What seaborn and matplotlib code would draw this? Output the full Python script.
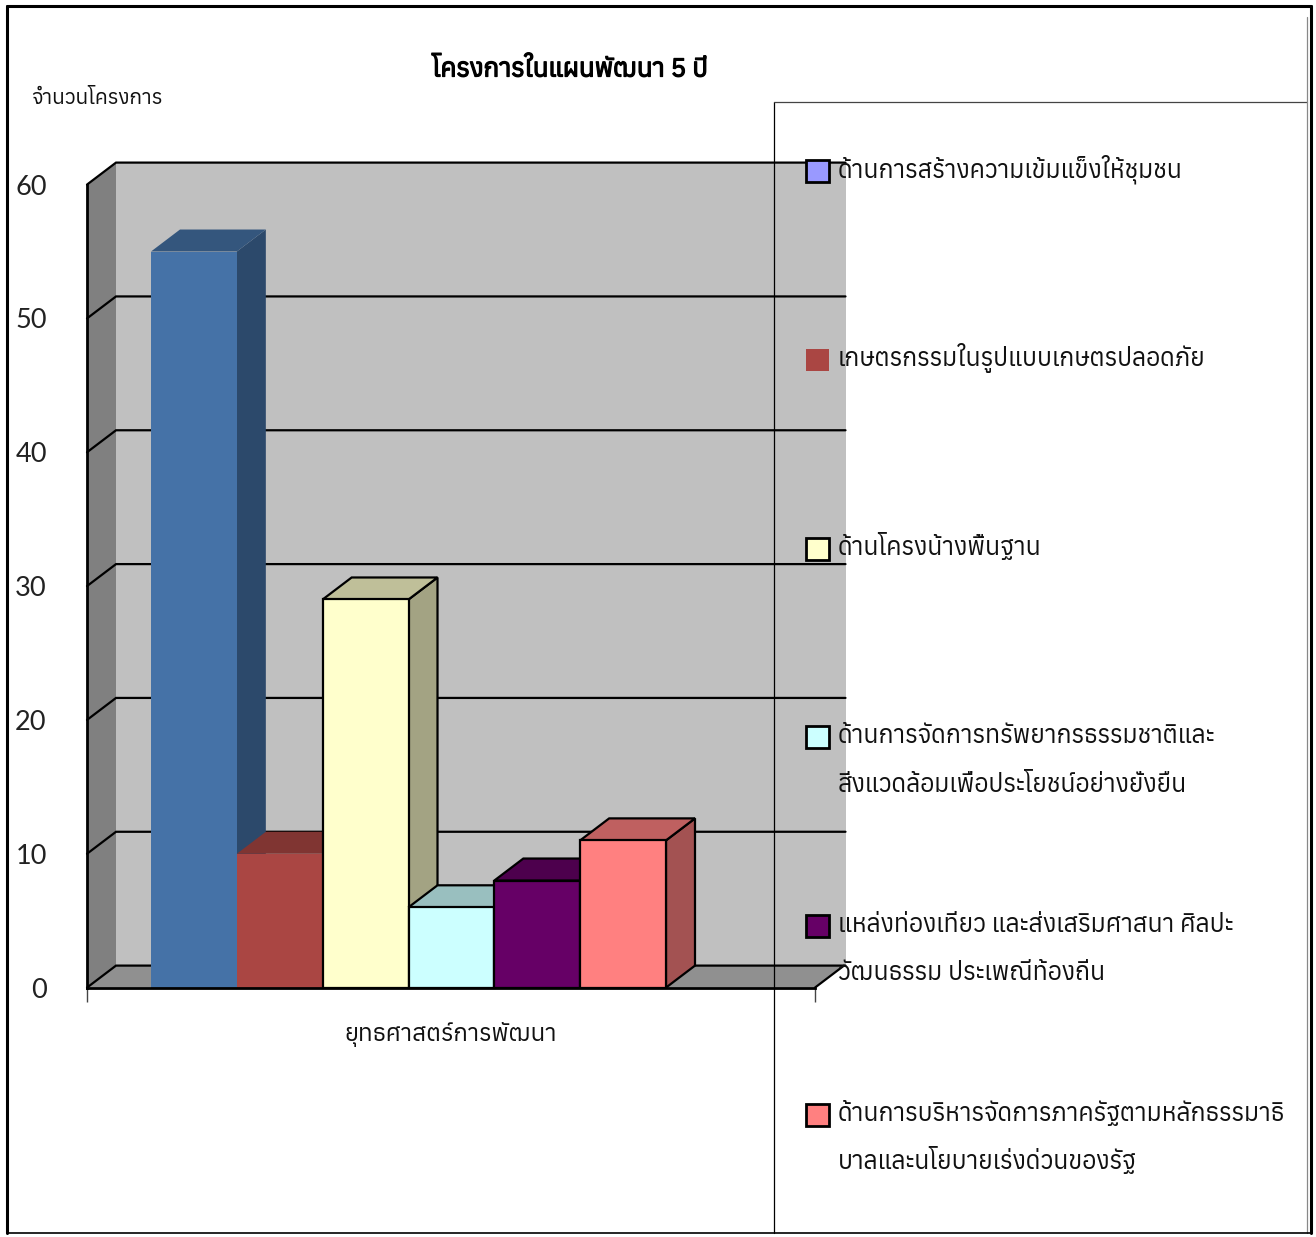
import matplotlib
matplotlib.use('Agg')
import matplotlib.pyplot as plt
import matplotlib.patheffects as pe
from matplotlib import font_manager, colors
from matplotlib.lines import Line2D
from matplotlib.patches import Polygon, Rectangle
from matplotlib.ft2font import FT2Font
import pandas as pd
import seaborn as sns

title = 'โครงการในแผนพัฒนา 5 ปี'
y_title = 'จำนวนโครงการ'
group = 'ยุทธศาสตร์การพัฒนา'
series = [
    'ด้านการสร้างความเข้มแข็งให้ชุมชน',
    'เกษตรกรรมในรูปแบบเกษตรปลอดภัย',
    'ด้านโครงน้างพื้นฐาน',
    'ด้านการจัดการทรัพยากรธรรมชาติและ\nสิ่งแวดล้อมเพื่อประโยชน์อย่างยั่งยืน',
    'แหล่งท่องเที่ยว และส่งเสริมศาสนา ศิลปะ\nวัฒนธรรม ประเพณีท้องถิ่น',
    'ด้านการบริหารจัดการภาครัฐตามหลักธรรมาธิ\nบาลและนโยบายเร่งด่วนของรัฐ',
]
values = [55, 10, 29, 6, 8, 11]
bar_colors = ['#4572A7', '#AA4643', '#FFFFCC', '#CCFFFF', '#660066', '#FF8080']
legend_colors = ['#9999FF', '#AA4643', '#FFFFCC', '#CCFFFF', '#660066', '#FF8080']
edged = [False, False, True, True, True, True]
y_ticks = [0, 10, 20, 30, 40, 50, 60]

W, H = 1316, 1237

# look for whatever installed font really has thai glyphs
thai_fonts = []
for f in font_manager.fontManager.ttflist:
    try:
        if 0x0E01 in FT2Font(f.fname).get_charmap():
            thai_fonts.append(f.name)
    except Exception:
        pass
thai_fonts = sorted(set(thai_fonts))

sns.set_theme(style='white')
plt.rcParams['font.family'] = thai_fonts[:1] + ['DejaVu Sans']

df = pd.DataFrame({'group': [group] * len(values), 'series': series, 'value': values})

fig = plt.figure(figsize=(W / 100, H / 100), dpi=100, facecolor='white')


def fx(x):
    return x / W


def fy(y):
    return 1 - y / H


# front plane of the fake 3d box, pixels of the picture
left, right, base, top = 87, 815, 987.6, 184.6
ax = fig.add_axes([fx(left), fy(base), (right - left) / W, (base - top) / H])
ax.patch.set_visible(False)

sns.barplot(data=df, x='group', y='value', hue='series', palette=bar_colors, hue_order=series,
            saturation=1, width=515 / 728, legend=False, ax=ax)

x0 = -(408.5 - left) / (right - left)
x1 = x0 + 1
ax.set_xlim(x0, x1)
ax.set_ylim(0, 60)
dx = 29 / (right - left)
dy = 22 / ((base - top) / 60)
wall_end = x1 + dx + 1.5 / (right - left)

# walls and floor
ax.add_patch(Polygon([(x0 + dx, dy), (wall_end, dy), (wall_end, 60 + dy), (x0 + dx, 60 + dy)],
                     fc='#C0C0C0', ec='none', zorder=0.5, clip_on=False))
ax.add_patch(Polygon([(x0, 0), (x0 + dx, dy), (x0 + dx, 60 + dy), (x0, 60)],
                     fc='#808080', ec='none', zorder=0.6, clip_on=False))
ax.add_patch(Polygon([(x0, 0), (x1, 0), (x1 + dx, dy), (x0 + dx, dy)],
                     fc='#909090', ec='none', zorder=0.6, clip_on=False))
for v in y_ticks:
    ax.plot([x0, x0 + dx, wall_end], [v, v + dy, v + dy], color='black', lw=1.6, zorder=0.8,
            clip_on=False, solid_joinstyle='miter')
ax.plot([x1, x1 + dx], [0, dy], color='black', lw=1.6, zorder=0.8, clip_on=False)

# sides and tops for the bars
for i, p in enumerate([b for c in ax.containers for b in c]):
    bx0, bx1, h = p.get_x(), p.get_x() + p.get_width(), p.get_height()
    rgb = colors.to_rgb(bar_colors[i])
    ec = 'black' if edged[i] else 'none'
    z = 2 + i
    p.set_zorder(z + 0.2)
    p.set_edgecolor(ec)
    p.set_linewidth(1.6 if edged[i] else 0)
    ax.add_patch(Polygon([(bx1, 0), (bx1 + dx, dy), (bx1 + dx, h + dy), (bx1, h)],
                         fc=[c * 0.64 for c in rgb], ec=ec, lw=1.6, zorder=z, clip_on=False))
    ax.add_patch(Polygon([(bx0, h), (bx1, h), (bx1 + dx, h + dy), (bx0 + dx, h + dy)],
                         fc=[c * 0.75 for c in rgb], ec=ec, lw=1.6, zorder=z + 0.1, clip_on=False))

ax.set_xlabel('')
ax.set_ylabel('')
ax.set_yticks(y_ticks)
ax.set_xticks([x0, x1], labels=['', ''])
ax.set_xticks([(x0 + x1) / 2], labels=[group], minor=True)
ax.tick_params(axis='y', length=10, width=1, color='#444444', labelsize=19.5, pad=19, labelcolor='#222222')
ax.tick_params(axis='x', which='major', length=10, width=1, color='#444444', bottom=True)
ax.tick_params(axis='x', which='minor', length=0, labelsize=17.3, pad=25, labelcolor='#111111')
for lab in ax.get_yticklabels():
    lab.set_family('Lato')
sns.despine(ax=ax, top=True, right=True)
for s in ['left', 'bottom']:
    ax.spines[s].set_linewidth(2)
    ax.spines[s].set_color('black')
    ax.spines[s].set_zorder(20)

# the thai font has no bold face, a thin stroke stands in for it
fig.text(fx(570), fy(69), title, ha='center', va='center', fontsize=18.6, color='black',
         path_effects=[pe.withStroke(linewidth=0.9, foreground='black')])
fig.text(fx(31), fy(98), y_title, ha='left', va='center', fontsize=15, color='#111111')

# legend box, transparent, so the wall shows through it
fig.add_artist(Line2D([fx(774), fx(774)], [fy(102), fy(1233)], color='black', lw=0.9))
fig.add_artist(Line2D([fx(774), fx(1307)], [fy(102), fy(102)], color='#444444', lw=0.9))
fig.add_artist(Line2D([fx(1307), fx(1307)], [fy(17), fy(1233)], color='#888888', lw=0.9))

legend_ys = [171, 360, 549, 737, 926, 1115]
for i, name in enumerate(series):
    yc = legend_ys[i]
    fig.add_artist(Rectangle((fx(806), fy(yc + 11)), 23 / W, 22 / H, fc=legend_colors[i],
                             ec='black' if edged[i] or i == 0 else 'none', lw=2, zorder=5,
                             transform=fig.transFigure))
    # one text per line, matplotlib line height changes with the glyphs
    for k, line in enumerate(name.split('\n')):
        fig.text(fx(838), fy(yc + 6 + 48.5 * k), line, ha='left', va='baseline',
                 fontsize=17.8, color='#111111', zorder=6)

# outer frame
for xs, ys, lw in [((7, 7), (6, 1233), 2.2), ((7, 1311), (6, 6), 2.2),
                   ((1311, 1311), (6, 1233), 2.2), ((7, 1311), (1233, 1233), 1.2)]:
    fig.add_artist(Line2D([fx(a) for a in xs], [fy(b) for b in ys], color='black', lw=lw))

fig.savefig('out.png', dpi=100)
